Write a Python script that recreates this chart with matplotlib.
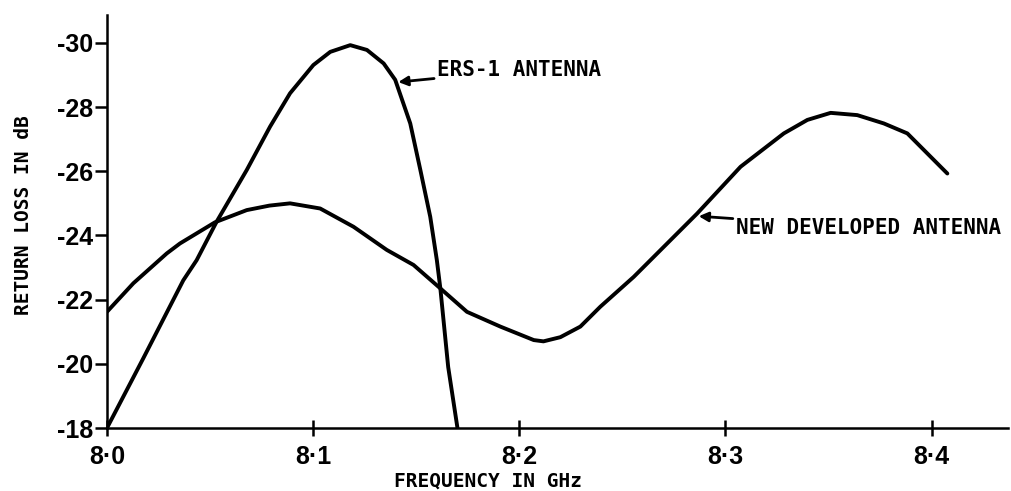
import matplotlib
matplotlib.use("Agg")
import matplotlib.pyplot as plt

# frequency (GHz) / return loss (dB)
ers_freq = [8.000, 8.0176, 8.037, 8.0435, 8.0532, 8.0678, 8.0791, 8.0888, 8.1001, 8.1083,
            8.118, 8.1261, 8.1342, 8.1398, 8.1471, 8.152, 8.1568, 8.160, 8.1617, 8.1655,
            8.170]
ers_loss = [-18.0, -20.17, -22.6, -23.23, -24.43, -26.04, -27.39, -28.43, -29.31, -29.72,
            -29.93, -29.78, -29.36, -28.85, -27.49, -26.04, -24.58, -23.23, -22.35, -19.9,
            -18.0]

new_freq = [8.000, 8.0128, 8.029, 8.0354, 8.0524, 8.0678, 8.0788, 8.0888, 8.1034, 8.1196,
            8.1357, 8.1487, 8.1617, 8.1746, 8.1908, 8.207, 8.2117, 8.2199, 8.2296, 8.2393,
            8.2555, 8.2862, 8.3073, 8.3283, 8.3397, 8.351, 8.3639, 8.3768, 8.3882, 8.4076]
new_loss = [-21.62, -22.51, -23.44, -23.75, -24.41, -24.79, -24.93, -25.0, -24.84, -24.27,
            -23.55, -23.08, -22.35, -21.62, -21.16, -20.74, -20.7, -20.83, -21.16, -21.78,
            -22.71, -24.68, -26.14, -27.18, -27.6, -27.82, -27.75, -27.49, -27.18, -25.93]

x_ticks = [8.0, 8.1, 8.2, 8.3, 8.4]
x_tick_labels = ["8\u00b70", "8\u00b71", "8\u00b72", "8\u00b73", "8\u00b74"]
y_ticks = [-18, -20, -22, -24, -26, -28, -30]
y_tick_labels = ["-18", "-20", "-22", "-24", "-26", "-28", "-30"]

plot_font = "DejaVu Sans Mono"
tick_font = "Liberation Sans"

fig = plt.figure(figsize=(10.12, 4.91), dpi=100)
ax = fig.add_axes([0.1057, 0.1283, 0.8903, 0.8412])

ax.plot(ers_freq, ers_loss, color="black", linewidth=2.8,
        solid_capstyle="round", solid_joinstyle="round")
ax.plot(new_freq, new_loss, color="black", linewidth=2.8,
        solid_capstyle="round", solid_joinstyle="round")

ax.set_xlim(8.0, 8.437)
ax.set_ylim(-18, -30.87)

for side in ("top", "right"):
    ax.spines[side].set_visible(False)
for side in ("left", "bottom"):
    ax.spines[side].set_linewidth(1.8)

ax.set_xticks(x_ticks, labels=x_tick_labels)
ax.set_yticks(y_ticks, labels=y_tick_labels)
ax.tick_params(axis="y", direction="out", length=9, width=1.8, pad=1)
ax.tick_params(axis="x", direction="inout", length=12, width=1.8, pad=6)
for lbl in ax.get_xticklabels() + ax.get_yticklabels():
    lbl.set_fontfamily(tick_font)
    lbl.set_fontweight("bold")
    lbl.set_fontsize(18)

ax.set_xlabel("FREQUENCY IN GHz", fontfamily=plot_font, fontweight="bold", fontsize=14)
ax.xaxis.set_label_coords(0.423, -0.105)
ax.set_ylabel("RETURN LOSS IN dB", fontfamily=plot_font, fontweight="bold", fontsize=14)
ax.yaxis.set_label_coords(-0.082, 0.515)

arrow = dict(arrowstyle="-|>", color="black", lw=2, mutation_scale=14, shrinkA=0, shrinkB=0)
ax.annotate("ERS-1 ANTENNA", xy=(8.1413, -28.78), xytext=(8.160, -29.15),
            fontfamily=plot_font, fontweight="bold", fontsize=15, va="center", ha="left",
            arrowprops=arrow)
ax.annotate("NEW DEVELOPED ANTENNA", xy=(8.287, -24.6), xytext=(8.3049, -24.23),
            fontfamily=plot_font, fontweight="bold", fontsize=15, va="center", ha="left",
            arrowprops=arrow)

fig.savefig("out.png", dpi=100)
